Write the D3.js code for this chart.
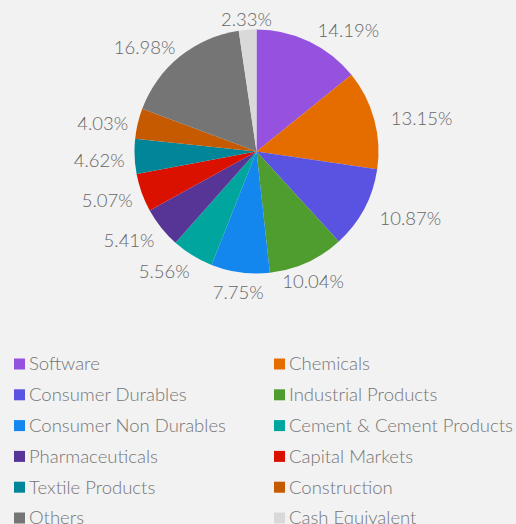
<!DOCTYPE html>
<html><head><meta charset="utf-8">
<script src="https://cdn.jsdelivr.net/npm/d3@7"></script>
<style>
html,body{margin:0;padding:0;background:#f2f2f2;}
svg{display:block;}
text{font-family:Lato,"Open Sans",sans-serif;font-weight:300;}
</style></head>
<body><svg id="c" width="516" height="524"></svg>
<script>
const categories = ["Software","Chemicals","Consumer Durables","Industrial Products","Consumer Non Durables","Cement & Cement Products","Pharmaceuticals","Capital Markets","Textile Products","Construction","Others","Cash Equivalent"];
const values = [14.19,13.15,10.87,10.04,7.75,5.56,5.41,5.07,4.62,4.03,16.98,2.33];
const colors = ["#9452df","#e56d00","#5a52e0","#4f9c2f","#1487ee","#00a59d","#573596","#db1100","#008599","#c55a00","#757575","#d9d9d9"];

const svg = d3.select("#c");
const cx = 256.5, cy = 151.5, R = 122;
const FS = 18.5;
const g = svg.append("g").attr("transform", `translate(${cx},${cy})`);
const pie = d3.pie().sort(null).value(d => d)(values);
const arc = d3.arc().innerRadius(0).outerRadius(R);
const color = d3.scaleOrdinal().domain(categories).range(colors);

g.selectAll("path").data(pie).join("path")
  .attr("d", arc)
  .attr("fill", (d,i) => color(categories[i]));

const LR = R + 15;
g.selectAll("text.lbl").data(pie).join("text")
  .attr("class","lbl")
  .each(function(d){
    const a = (d.startAngle + d.endAngle)/2;
    const dx = Math.sin(a), dy = -Math.cos(a);
    const x = LR*dx, y = LR*dy;
    const anchor = dx > 0.42 ? "start" : (dx < -0.45 ? "end" : "middle");
    d3.select(this).attr("x", x + (anchor==="start"?2:anchor==="end"?5:0))
      .attr("y", y + (anchor === "middle" ? 5 : 3)).attr("dy","0.35em").attr("text-anchor", anchor);
  })
  .attr("font-size", FS).attr("fill", "#666")
  .text(d => d.data.toFixed(2) + "%");

// legend
const leg = svg.append("g");
const colX = d3.scalePoint().domain([0,1]).range([14,274]);
const rowY = d3.scaleLinear().domain([0,5]).range([364,518]);
categories.forEach((c,i) => {
  const x = colX(i%2), y = rowY(Math.floor(i/2));
  leg.append("rect").attr("x", x).attr("y", y-5.5).attr("width", 11).attr("height", 11).attr("fill", color(c));
  leg.append("text").attr("x", x+15).attr("y", y).attr("dy","0.35em")
    .attr("font-size", FS).attr("fill", "#757575").text(c);
});
</script></body></html>
